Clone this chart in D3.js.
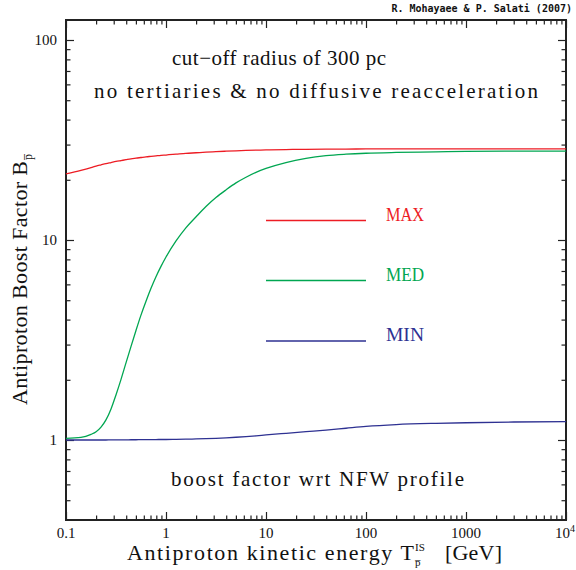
<!DOCTYPE html>
<html><head><meta charset="utf-8">
<script src="https://cdn.jsdelivr.net/npm/d3@7"></script>
<style>body{margin:0;background:#fff}svg{display:block}</style>
</head><body>
<script>
// ---- data ----
const energies  = [0.1, 0.141, 0.178, 0.2, 0.224, 0.251, 0.282, 0.316, 0.355, 0.398, 0.447, 0.501, 0.562, 0.631, 0.708, 0.794, 0.891, 1, 1.26, 1.58, 2, 2.51, 3.16, 3.98, 5.01, 6.31, 7.94, 10, 15.8, 25.1, 39.8, 63.1, 100, 200, 500, 1000, 3000, 10000];
const maxValues = [21.4, 22.3, 23.0, 23.4, 23.75, 24.1, 24.4, 24.7, 24.95, 25.2, 25.45, 25.65, 25.85, 26.05, 26.2, 26.35, 26.5, 26.6, 26.85, 27.1, 27.3, 27.5, 27.65, 27.8, 27.93, 28.05, 28.13, 28.2, 28.33, 28.42, 28.47, 28.5, 28.52, 28.54, 28.55, 28.55, 28.55, 28.55];
const medValues = [1.019, 1.03, 1.067, 1.10, 1.16, 1.26, 1.43, 1.68, 2.01, 2.43, 2.94, 3.53, 4.21, 4.94, 5.73, 6.55, 7.38, 8.22, 9.89, 11.5, 13.06, 14.7, 16.3, 17.8, 19.3, 20.6, 21.8, 22.8, 24.4, 25.6, 26.4, 26.85, 27.15, 27.4, 27.6, 27.75, 27.8, 27.85];
const minValues = [1.0, 1.0, 1.0, 1.0, 1.0, 1.0, 1.001, 1.001, 1.002, 1.002, 1.003, 1.003, 1.004, 1.004, 1.005, 1.005, 1.006, 1.006, 1.008, 1.01, 1.012, 1.015, 1.019, 1.025, 1.032, 1.04, 1.049, 1.06, 1.08, 1.10, 1.12, 1.145, 1.17, 1.195, 1.212, 1.22, 1.23, 1.235];
const seriesNames = ["MAX", "MED", "MIN"];
const seriesColors = ["#ed1c24", "#00a651", "#2e3192"];
const xMajorTicks = [0.1, 1, 10, 100, 1000, 10000];
const xTickLabels = ["0.1", "1", "10", "100", "1000", "10^4"];
const yMajorTicks = [1, 10, 100];
const yTickLabels = ["1", "10", "100"];

const W = 576, H = 570;
const m = {left: 66, right: 10, top: 20, bottom: 50};
const svg = d3.select("body").append("svg").attr("width", W).attr("height", H);
const x = d3.scaleLog().domain([0.1, 1e4]).range([m.left, W - m.right]);
const y = d3.scaleLog().domain([Math.pow(10, -0.4), Math.pow(10, 2.1)]).range([H - m.bottom, m.top]);
const x0 = x.range()[0], x1 = x.range()[1], y0 = y.range()[0], y1 = y.range()[1];

const serif = "'Liberation Serif', 'Times New Roman', serif";
// minor ticks
const xMinor = [];
for (let d = 0.1; d < 1e4; d *= 10) for (let k = 2; k <= 9; k++) xMinor.push(d * k);
const yMinor = [];
for (let d = 0.1; d <= 100; d *= 10) for (let k = 2; k <= 9; k++) { const v = d * k; if (v >= y.domain()[0] && v <= y.domain()[1]) yMinor.push(v); }

const tickStyle = g => { g.select(".domain").remove(); g.selectAll("line").attr("stroke", "#222").attr("stroke-width", 1.2); g.selectAll("text").remove(); };
const MAJ = 8, MIN = 4.5;
svg.append("g").attr("transform", `translate(0,${y0})`).call(d3.axisBottom(x).tickValues(xMajorTicks).tickSize(-MAJ)).call(tickStyle);
svg.append("g").attr("transform", `translate(0,${y0})`).call(d3.axisBottom(x).tickValues(xMinor).tickSize(-MIN)).call(tickStyle);
svg.append("g").attr("transform", `translate(0,${y1})`).call(d3.axisTop(x).tickValues(xMajorTicks).tickSize(-MAJ)).call(tickStyle);
svg.append("g").attr("transform", `translate(0,${y1})`).call(d3.axisTop(x).tickValues(xMinor).tickSize(-MIN)).call(tickStyle);
svg.append("g").attr("transform", `translate(${x0},0)`).call(d3.axisLeft(y).tickValues(yMajorTicks).tickSize(-MAJ)).call(tickStyle);
svg.append("g").attr("transform", `translate(${x0},0)`).call(d3.axisLeft(y).tickValues(yMinor).tickSize(-MIN)).call(tickStyle);
svg.append("g").attr("transform", `translate(${x1},0)`).call(d3.axisRight(y).tickValues(yMajorTicks).tickSize(-MAJ)).call(tickStyle);
svg.append("g").attr("transform", `translate(${x1},0)`).call(d3.axisRight(y).tickValues(yMinor).tickSize(-MIN)).call(tickStyle);

// frame
svg.append("rect").attr("x", x0).attr("y", y1).attr("width", x1 - x0).attr("height", y0 - y1)
  .attr("fill", "none").attr("stroke", "#222").attr("stroke-width", 2);

// tick labels
const xl = svg.append("g").attr("font-family", serif).attr("font-size", 15).attr("fill", "#111");
xMajorTicks.forEach((v, i) => {
  const lab = xTickLabels[i];
  const t = xl.append("text").attr("x", x(v)).attr("y", y0 + 18).attr("text-anchor", "middle");
  if (lab.includes("^")) {
    const [b, e] = lab.split("^");
    t.attr("x", x(v) - 1);
    t.append("tspan").text(b);
    t.append("tspan").attr("dy", -6).attr("font-size", 10).text(e);
  } else t.text(lab);
});
yMajorTicks.forEach((v, i) => {
  xl.append("text").attr("x", x0 - 9).attr("y", y(v) + 5).attr("text-anchor", "end").text(yTickLabels[i]);
});

// curves
const allValues = [maxValues, medValues, minValues];
const line = d3.line().x(d => x(d[0])).y(d => y(d[1])).curve(d3.curveMonotoneX);
allValues.forEach((vals, i) => {
  svg.append("path").datum(energies.map((e, j) => [e, vals[j]]))
    .attr("d", line).attr("fill", "none").attr("stroke", seriesColors[i]).attr("stroke-width", 1.3);
});

// legend
const legY = [220.5, 280.5, 341];
seriesNames.forEach((n, i) => {
  svg.append("line").attr("x1", x(10)).attr("x2", x(100)).attr("y1", legY[i]).attr("y2", legY[i])
    .attr("stroke", seriesColors[i]).attr("stroke-width", 1.3);
  svg.append("text").attr("x", 386).attr("y", legY[i]).attr("font-family", serif).attr("font-size", 19)
    .attr("textLength", 38).attr("lengthAdjust", "spacingAndGlyphs")
    .attr("fill", seriesColors[i]).text(n);
});

// annotations
const ann = svg.append("g").attr("font-family", serif).attr("font-size", 21).attr("fill", "#111");
ann.append("text").attr("x", 172).attr("y", 65).attr("textLength", 214).attr("lengthAdjust", "spacing").text("cut\u2212off radius of 300 pc");
ann.append("text").attr("x", 94).attr("y", 98).attr("textLength", 444).attr("lengthAdjust", "spacing").text("no tertiaries & no diffusive reacceleration");
ann.append("text").attr("x", 171).attr("y", 486).attr("textLength", 293).attr("lengthAdjust", "spacing").text("boost factor wrt NFW profile");

// credit
svg.append("text").attr("x", 572).attr("y", 12).attr("text-anchor", "end")
  .attr("font-family", "'DejaVu Sans Mono', monospace").attr("font-weight", "bold").attr("font-size", 10)
  .attr("fill", "#111").text("R. Mohayaee & P. Salati (2007)");

// axis titles
const xt = svg.append("g").attr("font-family", serif).attr("fill", "#111");
xt.append("text").attr("x", 127).attr("y", 560).attr("font-size", 22).attr("textLength", 287).attr("lengthAdjust", "spacing")
  .text("Antiproton kinetic energy T");
xt.append("text").attr("x", 415).attr("y", 551).attr("font-size", 11).text("IS");
xt.append("text").attr("x", 415).attr("y", 566).attr("font-size", 11).text("p\u0305");
xt.append("text").attr("x", 445).attr("y", 560).attr("font-size", 22).attr("textLength", 57).attr("lengthAdjust", "spacing").text("[GeV]");

const yt = svg.append("g").attr("font-family", serif).attr("fill", "#111").attr("transform", "translate(27,0) rotate(-90)");
yt.append("text").attr("x", -405).attr("y", 0).attr("font-size", 22).attr("textLength", 244).attr("lengthAdjust", "spacing")
  .text("Antiproton Boost Factor B");
yt.append("text").attr("x", -160).attr("y", 5).attr("font-size", 12).text("p\u0305");
</script>
</body></html>
